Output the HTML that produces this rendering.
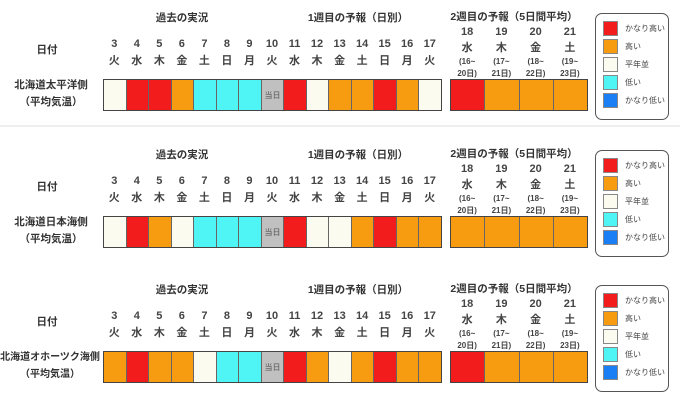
<!DOCTYPE html>
<html><head><meta charset="utf-8"><style>
*{margin:0;padding:0;box-sizing:border-box}
body{width:680px;height:408px;background:#fff;position:relative;overflow:hidden;font-family:"Liberation Sans","Noto Sans CJK JP",sans-serif;color:#333}
.p{position:absolute;left:0;width:680px;height:136px}
.t{position:absolute;font-size:10.5px;font-weight:bold;white-space:nowrap;transform:translateX(-50%);line-height:12px}
.days{position:absolute;left:103px;top:36px;width:338px;display:flex}
.days div{flex:1;text-align:center;font-size:11px;font-weight:bold;line-height:17px;color:#444}
.w2{position:absolute;left:450px;top:24px;width:137px;display:flex}
.w2 div{flex:1;text-align:center;font-size:11px;font-weight:bold;line-height:16px;color:#444}
.w2 div span{display:block;font-size:8px;line-height:12px;font-weight:bold}
.row{position:absolute;top:79px;height:32px;display:flex;border:1px solid #444}
.row div{flex:1;border-right:1px solid #666;font-size:8px;color:#555;display:flex;align-items:center;justify-content:center}
.row div:last-child{border-right:none}
.r1{left:103px;width:339px}.r2{left:450px;width:138px}
.R{background:#f21c1c}.O{background:#f79b10}.W{background:#fcfbf0}.C{background:#4ff4f4}.G{background:#c0c0c0}.B{background:#1a7ff4}
.lg{position:absolute;left:595px;top:13px;width:74px;height:107px;border:1px solid #555;border-radius:7px}
.lg div{position:absolute;left:7px;width:15px;height:15px;border:1px solid #888}
.lg span{position:absolute;left:29px;font-size:8px;line-height:15px;color:#444;white-space:nowrap}
.lab{position:absolute;text-align:center;font-size:10.5px;font-weight:bold;line-height:17px;transform:translateX(-50%);white-space:nowrap;top:77px}
</style></head><body>

<div style="position:absolute;left:0;top:125px;width:680px;height:2px;background:#eeeeee"></div>

<!-- panel 1 -->
<div class="p" style="top:0">
<div class="t" style="left:182px;top:12px">過去の実況</div>
<div class="t" style="left:358px;top:12px">1週目の予報（日別）</div>
<div class="t" style="left:514px;top:11px">2週目の予報（5日間平均）</div>
<div class="t" style="left:47px;top:44px">日付</div>
<div class="days"><div>3<br>火</div><div>4<br>水</div><div>5<br>木</div><div>6<br>金</div><div>7<br>土</div><div>8<br>日</div><div>9<br>月</div><div>10<br>火</div><div>11<br>水</div><div>12<br>木</div><div>13<br>金</div><div>14<br>土</div><div>15<br>日</div><div>16<br>月</div><div>17<br>火</div></div>
<div class="w2"><div>18<br>水<span>(16~<br>20日)</span></div><div>19<br>木<span>(17~<br>21日)</span></div><div>20<br>金<span>(18~<br>22日)</span></div><div>21<br>土<span>(19~<br>23日)</span></div></div>
<div class="lab" style="left:51px">北海道太平洋側<br>（平均気温）</div>
<div class="row r1"><div class="W"></div><div class="R"></div><div class="R"></div><div class="O"></div><div class="C"></div><div class="C"></div><div class="C"></div><div class="G">当日</div><div class="R"></div><div class="W"></div><div class="O"></div><div class="O"></div><div class="R"></div><div class="O"></div><div class="W"></div></div>
<div class="row r2"><div class="R"></div><div class="O"></div><div class="O"></div><div class="O"></div></div>
<div class="lg"><div class="R" style="top:7px"></div><span style="top:7px">かなり高い</span><div class="O" style="top:25px"></div><span style="top:25px">高い</span><div class="W" style="top:43px"></div><span style="top:43px">平年並</span><div class="C" style="top:61px"></div><span style="top:61px">低い</span><div class="B" style="top:79px"></div><span style="top:79px">かなり低い</span></div>
</div>

<!-- panel 2 -->
<div class="p" style="top:137px">
<div class="t" style="left:182px;top:12px">過去の実況</div>
<div class="t" style="left:358px;top:12px">1週目の予報（日別）</div>
<div class="t" style="left:514px;top:11px">2週目の予報（5日間平均）</div>
<div class="t" style="left:47px;top:44px">日付</div>
<div class="days"><div>3<br>火</div><div>4<br>水</div><div>5<br>木</div><div>6<br>金</div><div>7<br>土</div><div>8<br>日</div><div>9<br>月</div><div>10<br>火</div><div>11<br>水</div><div>12<br>木</div><div>13<br>金</div><div>14<br>土</div><div>15<br>日</div><div>16<br>月</div><div>17<br>火</div></div>
<div class="w2"><div>18<br>水<span>(16~<br>20日)</span></div><div>19<br>木<span>(17~<br>21日)</span></div><div>20<br>金<span>(18~<br>22日)</span></div><div>21<br>土<span>(19~<br>23日)</span></div></div>
<div class="lab" style="left:51px">北海道日本海側<br>（平均気温）</div>
<div class="row r1"><div class="W"></div><div class="R"></div><div class="O"></div><div class="W"></div><div class="C"></div><div class="C"></div><div class="C"></div><div class="G">当日</div><div class="R"></div><div class="W"></div><div class="W"></div><div class="O"></div><div class="R"></div><div class="O"></div><div class="O"></div></div>
<div class="row r2"><div class="O"></div><div class="O"></div><div class="O"></div><div class="O"></div></div>
<div class="lg"><div class="R" style="top:7px"></div><span style="top:7px">かなり高い</span><div class="O" style="top:25px"></div><span style="top:25px">高い</span><div class="W" style="top:43px"></div><span style="top:43px">平年並</span><div class="C" style="top:61px"></div><span style="top:61px">低い</span><div class="B" style="top:79px"></div><span style="top:79px">かなり低い</span></div>
</div>

<!-- panel 3 -->
<div class="p" style="top:272px">
<div class="t" style="left:182px;top:12px">過去の実況</div>
<div class="t" style="left:358px;top:12px">1週目の予報（日別）</div>
<div class="t" style="left:514px;top:11px">2週目の予報（5日間平均）</div>
<div class="t" style="left:47px;top:44px">日付</div>
<div class="days"><div>3<br>火</div><div>4<br>水</div><div>5<br>木</div><div>6<br>金</div><div>7<br>土</div><div>8<br>日</div><div>9<br>月</div><div>10<br>火</div><div>11<br>水</div><div>12<br>木</div><div>13<br>金</div><div>14<br>土</div><div>15<br>日</div><div>16<br>月</div><div>17<br>火</div></div>
<div class="w2"><div>18<br>水<span>(16~<br>20日)</span></div><div>19<br>木<span>(17~<br>21日)</span></div><div>20<br>金<span>(18~<br>22日)</span></div><div>21<br>土<span>(19~<br>23日)</span></div></div>
<div class="lab" style="left:50px;font-size:10px">北海道オホーツク海側<br>（平均気温）</div>
<div class="row r1"><div class="O"></div><div class="R"></div><div class="O"></div><div class="O"></div><div class="W"></div><div class="C"></div><div class="C"></div><div class="G">当日</div><div class="R"></div><div class="O"></div><div class="W"></div><div class="O"></div><div class="R"></div><div class="O"></div><div class="O"></div></div>
<div class="row r2"><div class="R"></div><div class="O"></div><div class="O"></div><div class="O"></div></div>
<div class="lg"><div class="R" style="top:7px"></div><span style="top:7px">かなり高い</span><div class="O" style="top:25px"></div><span style="top:25px">高い</span><div class="W" style="top:43px"></div><span style="top:43px">平年並</span><div class="C" style="top:61px"></div><span style="top:61px">低い</span><div class="B" style="top:79px"></div><span style="top:79px">かなり低い</span></div>
</div>

</body></html>
